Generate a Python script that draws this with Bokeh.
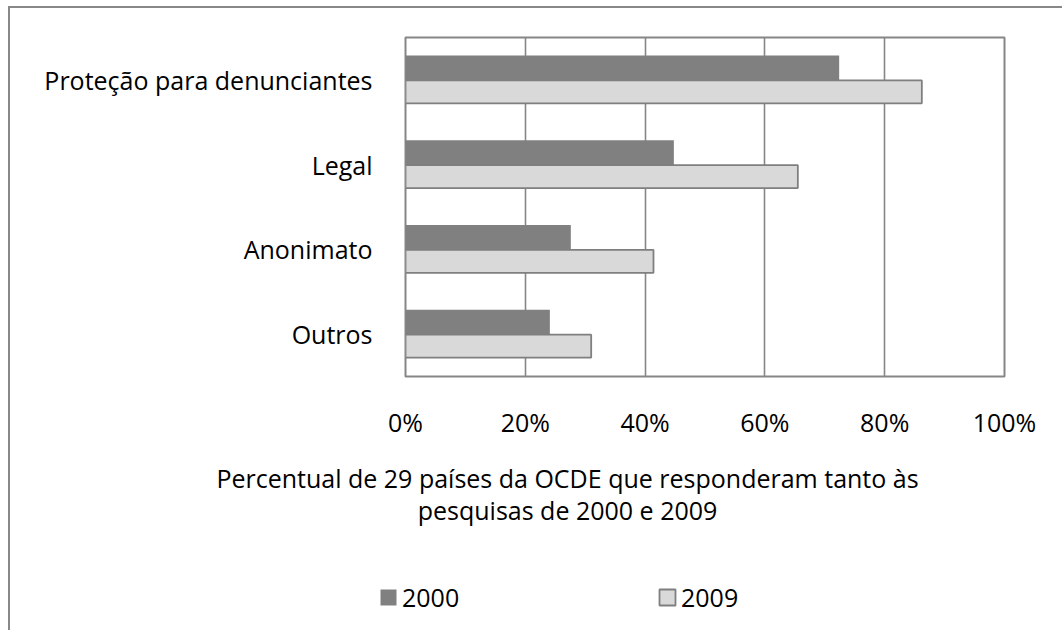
from bokeh.plotting import figure
from bokeh.layouts import column
from bokeh.models import (ColumnDataSource, FactorRange, Range1d, FixedTicker,
                          PrintfTickFormatter, Legend, LegendItem, Label)
from bokeh.transform import dodge
from bokeh.embed import file_html
from bokeh.resources import INLINE

categories = ["Proteção para denunciantes", "Legal", "Anonimato", "Outros"]
values_2000 = [72.4, 44.8, 27.6, 24.1]
values_2009 = [86.2, 65.5, 41.4, 31.0]
series_names = ["2000", "2009"]
x_ticks = [0, 20, 40, 60, 80, 100]
axis_title = ["Percentual de 29 países da OCDE que responderam tanto às",
              "pesquisas de 2000 e 2009"]

FONT = "Open Sans"
FS = "25px"
C2000 = "#808080"
C2009 = "#d9d9d9"
EDGE = "#7f7f7f"

src = ColumnDataSource(dict(cat=categories, v2000=values_2000, v2009=values_2009))

p = figure(width=1052, height=440, output_backend="svg", toolbar_location=None,
           y_range=FactorRange(factors=list(reversed(categories))),
           x_range=Range1d(0, 100),
           min_border_left=395, min_border_right=58, min_border_top=29,
           min_border_bottom=72)
p.frame_align = False

p.background_fill_color = "white"
p.border_fill_color = "white"
p.outline_line_color = "#868686"
p.outline_line_width = 2

r1 = p.hbar(y=dodge("cat", 0.142, range=p.y_range), right="v2000", left=0, height=0.29,
            source=src, fill_color=C2000, line_color=None)
r2 = p.hbar(y=dodge("cat", -0.142, range=p.y_range), right="v2009", left=0, height=0.27,
            source=src, fill_color=C2009, line_color=EDGE, line_width=1.8)

p.xaxis.ticker = FixedTicker(ticks=x_ticks)
p.xaxis.formatter = PrintfTickFormatter(format="%d%%")
p.xaxis.axis_line_color = None
p.xaxis.major_tick_line_color = None
p.xaxis.minor_tick_line_color = None
p.xaxis.major_label_standoff = 22
p.xaxis.major_label_text_font = FONT
p.xaxis.major_label_text_font_size = FS
p.xaxis.major_label_text_color = "black"

p.yaxis.axis_line_color = None
p.yaxis.major_tick_line_color = None
p.yaxis.minor_tick_line_color = None
p.yaxis.major_label_standoff = 27
p.yaxis.major_label_text_font = FONT
p.yaxis.major_label_text_font_size = FS
p.yaxis.major_label_text_color = "black"

p.xgrid.ticker = FixedTicker(ticks=x_ticks[1:-1])
p.xgrid.grid_line_color = "#868686"
p.xgrid.grid_line_width = 1.6
p.ygrid.grid_line_color = None

# lower panel: axis title and legend
H2 = 182
q = figure(width=1052, height=H2, output_backend="svg", toolbar_location=None,
           x_range=Range1d(0, 1052), y_range=Range1d(0, H2),
           min_border=0, min_border_left=0, min_border_right=0,
           min_border_top=0, min_border_bottom=0)
q.frame_align = False
q.axis.visible = False
q.grid.visible = False
q.outline_line_color = None
q.background_fill_color = "white"
q.border_fill_color = "white"

for i, line in enumerate(axis_title):
    q.add_layout(Label(x=557, y=153 - 32 * i, text=line, text_align="center",
                       text_baseline="middle", text_font=FONT, text_font_size=FS,
                       text_color="black"))

# legend proxies (hidden) carrying the same series styles
d1 = q.hbar(y="cat", right="v2000", left=0, height=1, source=src,
            fill_color=C2000, line_color=None, visible=False)
d2 = q.hbar(y="cat", right="v2009", left=0, height=1, source=src,
            fill_color=C2009, line_color=EDGE, line_width=1.8, visible=False)

legend = Legend(items=[LegendItem(label=series_names[0], renderers=[d1]),
                       LegendItem(label=series_names[1], renderers=[d2])],
                orientation="horizontal", location=(368, 16),
                glyph_width=20, glyph_height=20, label_standoff=4,
                label_width=255, spacing=0, padding=0, margin=0,
                border_line_color=None, background_fill_alpha=0,
                label_text_font=FONT, label_text_font_size=FS,
                label_text_color="black")
q.add_layout(legend)

layout = column(p, q, spacing=0)
layout.styles = {"border-left": "2px solid #888888", "border-top": "2px solid #888888",
                 "margin-left": "8px", "margin-top": "6px"}

open("out.html", "w").write(file_html(layout, INLINE))
